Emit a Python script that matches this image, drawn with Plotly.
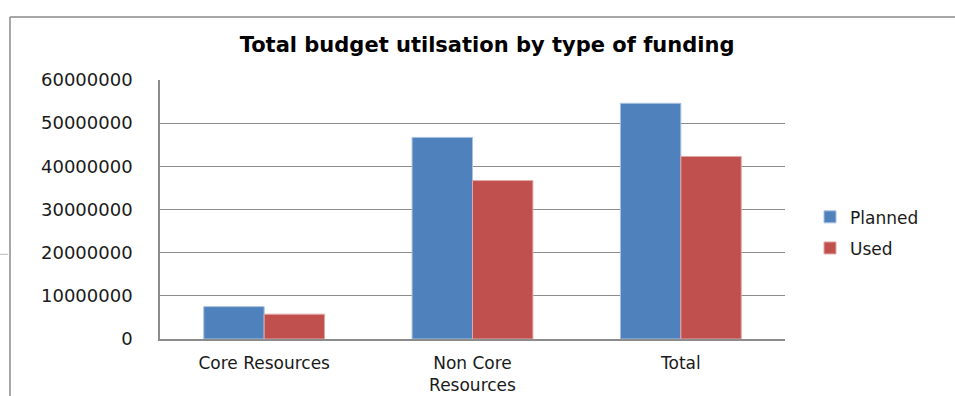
import plotly.graph_objects as go

# Budget figures by funding type
categories = ["Core Resources", "Non Core<br>Resources", "Total"]
planned = [7500000, 46700000, 54600000]
used = [5750000, 36700000, 42300000]
y_ticks = [0, 10000000, 20000000, 30000000, 40000000, 50000000, 60000000]

FONT = "DejaVu Sans"
TEXT = "#1a1a1a"
GRID = "#8c8c8c"

fig = go.Figure()
fig.add_trace(go.Bar(
    x=categories, y=planned, name="Planned", legendgroup="p",
    marker=dict(color="#4F81BD", line=dict(color="#a9c1e0", width=1)),
))
fig.add_trace(go.Bar(
    x=categories, y=used, name="Used", legendgroup="u",
    marker=dict(color="#C0504D", line=dict(color="#e0a9a7", width=1)),
))

fig.update_layout(
    width=955, height=396,
    margin=dict(l=160, r=170, t=80, b=57),
    paper_bgcolor="white", plot_bgcolor="white",
    barmode="group", bargap=0.42, bargroupgap=0,
    font=dict(family=FONT, color=TEXT, size=16),
    title=dict(
        text="<b>Total budget utilsation by type of funding</b>",
        x=0.51, xref="container", xanchor="center",
        y=0.886, yref="container", yanchor="middle",
        font=dict(family=FONT, size=21, color="#000000"),
        automargin=False,
    ),
    legend=dict(
        x=1.04, xanchor="left", y=0.41, yanchor="middle",
        font=dict(family=FONT, size=17, color=TEXT),
        tracegroupgap=6, bgcolor="rgba(0,0,0,0)",
    ),
    xaxis=dict(
        showline=True, linecolor=GRID, linewidth=1.5,
        showgrid=False, ticks="", tickfont=dict(size=17),
        ticklabelstandoff=8, automargin=False,
    ),
    yaxis=dict(
        range=[0, 60000000], tickvals=y_ticks,
        ticktext=[str(v) for v in y_ticks],
        showline=True, linecolor=GRID, linewidth=1.5,
        showgrid=True, gridcolor=GRID, gridwidth=1.3,
        zeroline=False, ticks="", ticklabelstandoff=22,
        tickfont=dict(size=18), automargin=False,
    ),
    shapes=[
        # outer chart frame (top and left edges)
        dict(type="line", xref="paper", yref="paper", x0=-0.24, x1=1.3,
             y0=1.243, y1=1.243, line=dict(color="#8a8a8a", width=1.5)),
        dict(type="line", xref="paper", yref="paper", x0=-0.24, x1=-0.24,
             y0=1.243, y1=-0.23, line=dict(color="#8a8a8a", width=1.5)),
        # short stub on far left
        dict(type="line", xref="paper", yref="paper", x0=-0.256, x1=-0.243,
             y0=0.327, y1=0.327, line=dict(color="#bbbbbb", width=1)),
    ],
)

fig.write_html("out.html")
